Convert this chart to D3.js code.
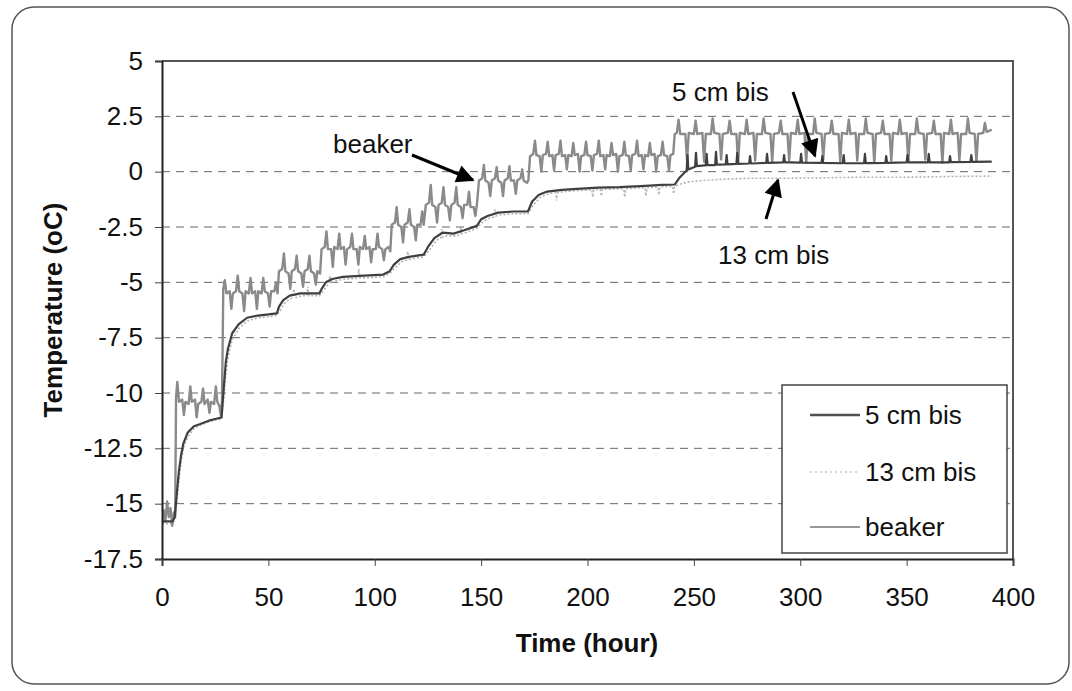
<!DOCTYPE html>
<html>
<head>
<meta charset="utf-8">
<script src="https://cdn.jsdelivr.net/npm/d3@7"></script>
<style>
  html, body { margin: 0; padding: 0; background: #fff; }
  svg text { font-family: "Liberation Sans", Arial, Helvetica, sans-serif; fill: #111; }
</style>
</head>
<body>
<svg id="chart" width="1072" height="691"></svg>
<script>
// Axis ticks
const xTicks = [0, 50, 100, 150, 200, 250, 300, 350, 400];
const yTicks = [5, 2.5, 0, -2.5, -5, -7.5, -10, -12.5, -15, -17.5];
const yTickLabels = ["5", "2.5", "0", "-2.5", "-5", "-7.5", "-10", "-12.5", "-15", "-17.5"];
const seriesNames = ["5 cm bis", "13 cm bis", "beaker"];

// beaker: [hour, °C]
const beaker = [
  [0,-15.9],[0.8,-15.3],[1.6,-15.8],[2.4,-14.9],[3.2,-15.6],[4,-15.2],[4.8,-16.0],[5.6,-15.4],[6.2,-15.6],
  [6.6,-10.2],[7.2,-9.5],[8,-10.4],[9.5,-10.3],[10.3,-11.0],[11,-10.4],[12.5,-10.5],[13.3,-9.7],[14,-10.4],
  [15.5,-10.3],[16.3,-11.1],[17,-10.5],[18.5,-10.4],[19.3,-9.8],[20,-10.5],[21.5,-10.3],[22.3,-10.9],[23,-10.4],
  [24.5,-10.5],[25.3,-9.7],[26,-10.4],[27,-10.6],[27.6,-11.0],[28.2,-10.4],
  [28.8,-5.3],[29.5,-4.9],[30.3,-5.5],[31.8,-5.4],[32.6,-6.2],[33.3,-5.5],[34.8,-5.4],[35.6,-4.7],[36.3,-5.4],
  [37.8,-5.5],[38.6,-6.3],[39.3,-5.4],[40.8,-5.5],[41.6,-4.8],[42.3,-5.5],[43.8,-5.4],[44.6,-6.2],[45.3,-5.4],
  [46.8,-5.5],[47.6,-4.8],[48.3,-5.4],[49.8,-5.5],[50.6,-6.1],[51.3,-5.4],[52.8,-5.4],[53.6,-5.0],[54.3,-5.5],
  [55,-4.5],[56.5,-4.4],[57.3,-3.7],[58,-4.5],[59.5,-4.6],[60.3,-5.3],[61,-4.5],[62.5,-4.4],[63.3,-3.8],[64,-4.5],
  [65.5,-4.6],[66.3,-5.2],[67,-4.5],[68.5,-4.4],[69.3,-3.8],[70,-4.5],[71.5,-4.6],[72.3,-5.1],[73,-4.5],[74.3,-4.6],
  [75,-3.5],[76.5,-3.4],[77.3,-2.7],[78,-3.5],[79.5,-3.5],[80.3,-4.3],[81,-3.4],[82.5,-3.5],[83.3,-2.8],[84,-3.5],
  [85.5,-3.4],[86.3,-4.2],[87,-3.5],[88.5,-3.4],[89.3,-2.8],[90,-3.5],[91.5,-3.5],[92.3,-4.2],[93,-3.4],[94.5,-3.5],
  [95.3,-2.9],[96,-3.5],[97.5,-3.4],[98.3,-4.1],[99,-3.5],[100.5,-3.5],[101.3,-2.8],[102,-3.4],[103.5,-3.5],
  [104.3,-4.0],[105,-3.5],[106.5,-3.4],[107.3,-3.6],
  [108,-2.4],[109.5,-2.3],[110.3,-1.6],[111,-2.4],[112.5,-2.5],[113.3,-3.2],[114,-2.4],[115.5,-2.3],[116.3,-1.7],
  [117,-2.4],[118.5,-2.5],[119.3,-3.1],[120,-2.4],[121.5,-2.4],[122.3,-1.8],[123,-2.4],
  [124,-1.5],[125.5,-1.4],[126.3,-0.6],[127,-1.5],[128.5,-1.6],[129.3,-2.3],[130,-1.5],[131.5,-1.4],[132.3,-0.7],
  [133,-1.5],[134.5,-1.6],[135.3,-2.2],[136,-1.5],[137.5,-1.4],[138.3,-0.7],[139,-1.5],[140.5,-1.6],[141.3,-2.1],
  [142,-1.5],[143.5,-1.5],[144.3,-0.9],[145,-1.6],[146.5,-1.6],[147.3,-2.0],[148,-1.5],
  [149,-0.4],[150.5,-0.3],[151.3,0.3],[152,-0.4],[153.5,-0.5],[154.3,-1.1],[155,-0.4],[156.5,-0.3],[157.3,0.2],
  [158,-0.4],[159.5,-0.5],[160.3,-1.1],[161,-0.4],[162.5,-0.3],[163.3,0.25],[164,-0.4],[165.5,-0.4],[166.3,-1.0],
  [167,-0.4],[168.5,-0.3],[169.3,0.1],[170,-0.4],[171.5,-0.5],[172.2,-0.4],
  [173,0.7],[174.5,0.8],[175.3,1.4],[176,0.75],[177.5,0.7],[178.3,0.0],[179,0.75],[180.5,0.8],[181.3,1.35],[182,0.7],
  [183.5,0.75],[184.3,0.05],[185,0.75],[186.5,0.8],[187.3,1.4],[188,0.7],[189.5,0.75],[190.3,0.1],[191,0.75],
  [192.5,0.7],[193.3,1.3],[194,0.75],[195.5,0.8],[196.3,0.0],[197,0.7],[198.5,0.75],[199.3,1.35],[200,0.75],
  [201.5,0.7],[202.3,0.05],[203,0.75],[204.5,0.8],[205.3,1.4],[206,0.7],[207.5,0.75],[208.3,0.1],[209,0.75],
  [210.5,0.7],[211.3,1.3],[212,0.75],[213.5,0.8],[214.3,0.0],[215,0.7],[216.5,0.75],[217.3,1.35],[218,0.75],
  [219.5,0.7],[220.3,0.05],[221,0.75],[222.5,0.8],[223.3,1.4],[224,0.7],[225.5,0.75],[226.3,0.1],[227,0.75],
  [228.5,0.7],[229.3,1.3],[230,0.75],[231.5,0.8],[232.3,0.0],[233,0.7],[234.5,0.75],[235.3,1.35],[236,0.75],
  [237.5,0.7],[238.3,0.05],[239,0.75],[240.3,0.8],
  [241,1.7],[242,1.75],[242.8,2.35],[243.6,1.7],[246,1.7],[246.8,0.5],[247.6,1.75],[250,1.7],[250.8,2.3],[251.6,1.7],
  [254,1.75],[254.8,0.45],[255.6,1.7],[258,1.7],[258.8,2.4],[259.6,1.75],[262,1.7],[262.8,0.55],[263.6,1.7],
  [266,1.75],[266.8,2.3],[267.6,1.7],[270,1.7],[270.8,0.4],[271.6,1.75],[274,1.7],[274.8,2.35],[275.6,1.7],
  [278,1.75],[278.8,0.5],[279.6,1.7],[282,1.7],[282.8,2.4],[283.6,1.75],[286,1.7],[286.8,0.45],[287.6,1.7],
  [290,1.75],[290.8,2.3],[291.6,1.7],[294,1.7],[294.8,0.5],[295.6,1.75],[298,1.7],[298.8,2.35],[299.6,1.7],
  [302,1.75],[302.8,0.4],[303.6,1.7],[306,1.7],[306.8,2.4],[307.6,1.75],[310,1.7],[310.8,0.55],[311.6,1.7],
  [314,1.75],[314.8,2.3],[315.6,1.7],[318,1.7],[318.8,0.45],[319.6,1.75],[322,1.7],[322.8,2.35],[323.6,1.7],
  [326,1.75],[326.8,0.5],[327.6,1.7],[330,1.7],[330.8,2.4],[331.6,1.75],[334,1.7],[334.8,0.4],[335.6,1.7],
  [338,1.75],[338.8,2.3],[339.6,1.7],[342,1.7],[342.8,0.5],[343.6,1.75],[346,1.7],[346.8,2.35],[347.6,1.7],
  [350,1.75],[350.8,0.45],[351.6,1.7],[354,1.7],[354.8,2.4],[355.6,1.75],[358,1.7],[358.8,0.55],[359.6,1.7],
  [362,1.75],[362.8,2.3],[363.6,1.7],[366,1.7],[366.8,0.4],[367.6,1.75],[370,1.7],[370.8,2.35],[371.6,1.7],
  [374,1.75],[374.8,0.5],[375.6,1.7],[378,1.7],[378.8,2.4],[379.6,1.75],[382,1.7],[382.8,0.45],[383.6,1.7],
  [386,1.75],[386.8,2.2],[387.6,1.8],[389,1.85],[390,1.9]
];

// 5 cm bis: [hour, °C]
const cm5 = [
  [0,-15.8],[5,-15.8],[6,-15.6],[7,-14.5],[8,-13.5],[9,-12.8],[10,-12.3],[12,-11.8],[15,-11.5],[18,-11.4],
  [22,-11.25],[26,-11.15],[28,-11.1],[29,-9.8],[30,-8.6],[31,-8.0],[33,-7.3],[36,-6.9],[40,-6.6],[45,-6.5],
  [50,-6.45],[54,-6.4],[55,-6.1],[57,-5.8],[60,-5.6],[65,-5.5],[70,-5.5],[74,-5.5],[75,-5.3],[77,-5.0],
  [80,-4.85],[85,-4.75],[95,-4.7],[104,-4.65],[107,-4.5],[109,-4.2],[112,-3.95],[116,-3.85],[123,-3.75],
  [125,-3.4],[128,-3.0],[132,-2.75],[137,-2.8],[142,-2.65],[148,-2.45],[150,-2.15],[153,-2.0],[158,-1.85],
  [165,-1.8],[172,-1.8],[174,-1.35],[177,-1.05],[181,-0.9],[188,-0.82],[195,-0.78],[205,-0.72],[215,-0.7],
  [225,-0.65],[235,-0.6],[241,-0.58],[243,-0.3],[246,0.0],[246.6,0.05],[247,0.75],[247.4,0.1],[250,0.2],
  [250.6,0.22],[251,0.85],[251.4,0.25],[255,0.28],[255.6,0.28],[256,0.8],[256.4,0.3],[260,0.3],[260.4,0.9],
  [260.8,0.32],[265,0.33],[265.4,0.75],[265.8,0.33],[270,0.35],[270.4,0.85],[270.8,0.35],[276,0.37],
  [276.4,0.7],[276.8,0.37],[280,0.38],[284,0.4],[284.4,0.8],[284.8,0.4],[292,0.42],[292.4,0.75],[292.8,0.42],
  [295,0.42],[300,0.41],[300.4,0.8],[300.8,0.41],[310,0.4],[310.4,0.7],[310.8,0.4],[320,0.38],[320.4,0.75],
  [320.8,0.38],[330,0.38],[330.4,0.8],[330.8,0.39],[340,0.4],[340.4,0.7],[340.8,0.4],[350,0.42],[350.4,0.75],
  [350.8,0.42],[360,0.42],[360.4,0.8],[360.8,0.42],[370,0.42],[370.4,0.7],[370.8,0.43],[380,0.44],[380.4,0.75],
  [380.8,0.44],[390,0.45]
];

// 13 cm bis: [hour, °C]
const cm13 = [
  [0,-15.9],[5,-15.9],[6,-15.7],[7,-14.9],[8,-13.9],[9,-13.1],[10,-12.5],[12,-12.0],[15,-11.6],[18,-11.45],
  [22,-11.3],[26,-11.2],[28,-11.2],[29,-10.3],[30,-9.2],[31,-8.4],[33,-7.6],[36,-7.1],[40,-6.75],[45,-6.6],
  [50,-6.55],[54,-6.5],[56,-6.2],[58,-5.9],[61,-5.7],[62,-5.3],[62.6,-5.7],[66,-5.6],[68,-5.6],[68.5,-5.2],
  [69,-5.6],[74,-5.6],[76,-5.35],[78,-5.1],[79,-4.7],[79.5,-5.05],[81,-4.95],[86,-4.85],[92,-4.82],[92.5,-4.4],
  [93,-4.8],[95,-4.8],[104,-4.75],[107,-4.6],[110,-4.3],[113,-4.05],[115,-4.0],[115.5,-3.6],[116,-4.0],
  [117,-3.95],[123,-3.85],[126,-3.5],[129,-3.1],[131,-3.0],[131.5,-2.6],[132,-2.95],[133,-2.9],[138,-2.9],
  [140,-2.85],[140.5,-2.5],[141,-2.8],[143,-2.75],[148,-2.55],[151,-2.25],[154,-2.1],[156,-2.05],[156.5,-1.7],
  [157,-2.0],[159,-1.95],[166,-1.9],[172,-1.9],[175,-1.45],[178,-1.15],[182,-0.98],[185,-0.95],[185.5,-1.3],
  [186,-0.95],[189,-0.9],[196,-0.85],[202,-0.82],[202.5,-1.15],[203,-0.82],[206,-0.8],[206.5,-1.1],[207,-0.8],
  [216,-0.77],[217,-0.77],[217.5,-1.15],[218,-0.77],[226,-0.72],[227,-0.72],[227.5,-1.1],[228,-0.72],
  [233,-0.7],[233.5,-1.05],[234,-0.7],[236,-0.68],[240,-0.66],[240.5,-1.0],[241,-0.66],[244,-0.55],
  [248,-0.45],[254,-0.4],[262,-0.35],[275,-0.3],[290,-0.3],[310,-0.28],[330,-0.25],[350,-0.25],[370,-0.22],
  [390,-0.2]
];

const svg = d3.select("#chart");
const plotLeft = 162, plotRight = 1013, plotTop = 61, plotBottom = 559;
const fontSize = 26;

const x = d3.scaleLinear().domain([0, 400]).range([plotLeft, plotRight]);
const y = d3.scaleLinear().domain([-17.5, 5]).range([plotBottom, plotTop]);

// outer rounded frame
svg.append("rect")
  .attr("x", 12).attr("y", 7).attr("width", 1057).attr("height", 677)
  .attr("rx", 22).attr("ry", 22)
  .attr("fill", "#fff").attr("stroke", "#555").attr("stroke-width", 1.5);

// horizontal dashed gridlines
svg.append("g")
  .selectAll("line")
  .data(yTicks.filter(v => v !== 5 && v !== -17.5))
  .join("line")
  .attr("x1", plotLeft).attr("x2", plotRight)
  .attr("y1", d => y(d)).attr("y2", d => y(d))
  .attr("stroke", "#666").attr("stroke-width", 1)
  .attr("stroke-dasharray", "8,6");

// plot frame (top and right edges)
svg.append("path")
  .attr("d", `M${plotLeft},${plotTop}H${plotRight}V${plotBottom}`)
  .attr("fill", "none").attr("stroke", "#555").attr("stroke-width", 2);

// clip for the series
svg.append("clipPath").attr("id", "plotClip")
  .append("rect").attr("x", plotLeft).attr("y", plotTop)
  .attr("width", plotRight - plotLeft).attr("height", plotBottom - plotTop);

const line = d3.line().x(d => x(d[0])).y(d => y(d[1]));
const plot = svg.append("g").attr("clip-path", "url(#plotClip)");

plot.append("path").datum(cm13)
  .attr("d", line).attr("fill", "none")
  .attr("stroke", "#b3b3b3").attr("stroke-width", 1.6)
  .attr("stroke-dasharray", "2,2");

plot.append("path").datum(beaker)
  .attr("d", line).attr("fill", "none")
  .attr("stroke", "#8a8a8a").attr("stroke-width", 2.4)
  .attr("stroke-linejoin", "round");

plot.append("path").datum(cm5)
  .attr("d", line).attr("fill", "none")
  .attr("stroke", "#3f3f3f").attr("stroke-width", 2.2)
  .attr("stroke-linejoin", "round");

// axes
const yAxis = d3.axisLeft(y)
  .tickValues(yTicks)
  .tickFormat((d, i) => yTickLabels[i])
  .tickSize(7).tickPadding(12);
const gy = svg.append("g").attr("transform", `translate(${plotLeft},0)`).call(yAxis);

const xAxis = d3.axisBottom(x)
  .tickValues(xTicks)
  .tickFormat(d3.format("d"))
  .tickSize(7).tickPadding(22);
const gx = svg.append("g").attr("transform", `translate(0,${plotBottom})`).call(xAxis);

[gx, gy].forEach(g => {
  g.select(".domain").attr("stroke", "#222").attr("stroke-width", 2);
  g.selectAll(".tick line").attr("stroke", "#444").attr("stroke-width", 1);
  g.selectAll(".tick text")
    .attr("font-family", '"Liberation Sans", Arial, sans-serif')
    .attr("font-size", fontSize).attr("fill", "#111");
});

// axis titles
svg.append("text")
  .attr("x", 587).attr("y", 652)
  .attr("text-anchor", "middle")
  .attr("font-size", fontSize).attr("font-weight", "bold")
  .text("Time (hour)");

svg.append("text")
  .attr("transform", `translate(62,${(plotTop + plotBottom) / 2}) rotate(-90)`)
  .attr("text-anchor", "middle")
  .attr("font-size", fontSize).attr("font-weight", "bold")
  .text("Temperature (oC)");

// arrow marker
svg.append("defs").append("marker")
  .attr("id", "arrowHead")
  .attr("viewBox", "0 0 10 10")
  .attr("refX", 9).attr("refY", 5)
  .attr("markerUnits", "userSpaceOnUse")
  .attr("markerWidth", 20).attr("markerHeight", 18)
  .attr("orient", "auto")
  .append("path").attr("d", "M0,0L10,5L0,10Z").attr("fill", "#000");

// annotations
const notes = [
  { text: "beaker", tx: 333, ty: 153, x1: 412, y1: 155, x2: 473, y2: 180 },
  { text: "5 cm bis", tx: 672, ty: 101, x1: 793, y1: 92, x2: 815, y2: 156 },
  { text: "13 cm bis", tx: 718, ty: 264, x1: 766, y1: 219, x2: 778, y2: 180 }
];
const ann = svg.append("g");
ann.selectAll("text").data(notes).join("text")
  .attr("x", d => d.tx).attr("y", d => d.ty)
  .attr("font-size", fontSize)
  .text(d => d.text);
ann.selectAll("line").data(notes).join("line")
  .attr("x1", d => d.x1).attr("y1", d => d.y1)
  .attr("x2", d => d.x2).attr("y2", d => d.y2)
  .attr("stroke", "#000").attr("stroke-width", 3)
  .attr("marker-end", "url(#arrowHead)");

// legend
const legend = svg.append("g");
legend.append("rect")
  .attr("x", 782).attr("y", 385).attr("width", 225).attr("height", 168)
  .attr("fill", "#fff").attr("stroke", "#444").attr("stroke-width", 1.5);

const legendStyles = [
  { color: "#505050", width: 2.5, dash: null },
  { color: "#c8c8c8", width: 1.5, dash: "2,3" },
  { color: "#777", width: 1.5, dash: null }
];
const legendRowY = [415, 472, 527];
const rows = legend.selectAll("g.row").data(seriesNames).join("g").attr("class", "row")
  .attr("transform", (d, i) => `translate(0,${legendRowY[i]})`);
rows.append("line")
  .attr("x1", 810).attr("x2", 860).attr("y1", 0).attr("y2", 0)
  .attr("stroke", (d, i) => legendStyles[i].color)
  .attr("stroke-width", (d, i) => legendStyles[i].width)
  .attr("stroke-dasharray", (d, i) => legendStyles[i].dash);
rows.append("text")
  .attr("x", 865).attr("y", 0).attr("dy", "0.35em")
  .attr("font-size", fontSize)
  .text(d => d);
</script>
</body>
</html>
